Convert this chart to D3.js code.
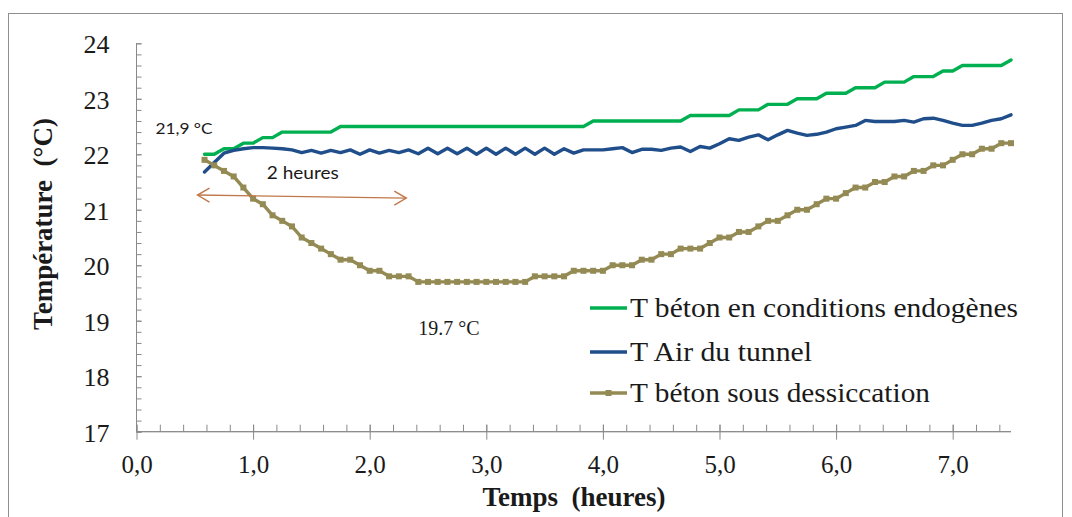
<!DOCTYPE html>
<html>
<head>
<meta charset="utf-8">
<script src="https://cdn.jsdelivr.net/npm/d3@7"></script>
<style>
  html, body { margin: 0; padding: 0; background: #fff; }
  svg { display: block; }
</style>
</head>
<body>
<svg id="chart" width="1072" height="517"></svg>
<script>
// ---- Data (time in minutes, temperatures in °C) ----
const minutes = [35,40,45,50,55,60,65,70,75,80,
  85,90,95,100,105,110,115,120,125,130,
  135,140,145,150,155,160,165,170,175,180,
  185,190,195,200,205,210,215,220,225,230,
  235,240,245,250,255,260,265,270,275,280,
  285,290,295,300,305,310,315,320,325,330,
  335,340,345,350,355,360,365,370,375,380,
  385,390,395,400,405,410,415,420,425,430,
  435,440,445,450];

const tBetonEndogene = [22.0,22.0,22.1,22.1,22.2,22.2,22.3,22.3,22.4,22.4,
  22.4,22.4,22.4,22.4,22.5,22.5,22.5,22.5,22.5,22.5,
  22.5,22.5,22.5,22.5,22.5,22.5,22.5,22.5,22.5,22.5,
  22.5,22.5,22.5,22.5,22.5,22.5,22.5,22.5,22.5,22.5,
  22.6,22.6,22.6,22.6,22.6,22.6,22.6,22.6,22.6,22.6,
  22.7,22.7,22.7,22.7,22.7,22.8,22.8,22.8,22.9,22.9,
  22.9,23.0,23.0,23.0,23.1,23.1,23.1,23.2,23.2,23.2,
  23.3,23.3,23.3,23.4,23.4,23.4,23.5,23.5,23.6,23.6,
  23.6,23.6,23.6,23.7];

const tAirTunnel = [21.68,21.85,22.02,22.07,22.10,22.12,22.12,22.11,22.10,22.08,
  22.03,22.07,22.02,22.07,22.03,22.08,22.00,22.08,22.02,22.07,
  22.03,22.08,22.01,22.11,22.01,22.11,22.01,22.11,22.00,22.11,
  22.00,22.11,22.00,22.11,22.00,22.11,22.00,22.10,22.02,22.08,
  22.08,22.08,22.10,22.12,22.03,22.09,22.09,22.07,22.11,22.13,
  22.05,22.14,22.11,22.19,22.28,22.25,22.31,22.35,22.26,22.35,
  22.43,22.38,22.34,22.36,22.40,22.46,22.49,22.52,22.61,22.59,
  22.59,22.59,22.61,22.58,22.64,22.65,22.61,22.56,22.52,22.52,
  22.56,22.61,22.64,22.71];

const tBetonDessiccation = [21.9,21.8,21.7,21.6,21.4,21.2,21.1,20.9,20.8,20.7,
  20.5,20.4,20.3,20.2,20.1,20.1,20.0,19.9,19.9,19.8,
  19.8,19.8,19.7,19.7,19.7,19.7,19.7,19.7,19.7,19.7,
  19.7,19.7,19.7,19.7,19.8,19.8,19.8,19.8,19.9,19.9,
  19.9,19.9,20.0,20.0,20.0,20.1,20.1,20.2,20.2,20.3,
  20.3,20.3,20.4,20.5,20.5,20.6,20.6,20.7,20.8,20.8,
  20.9,21.0,21.0,21.1,21.2,21.2,21.3,21.4,21.4,21.5,
  21.5,21.6,21.6,21.7,21.7,21.8,21.8,21.9,22.0,22.0,
  22.1,22.1,22.2,22.2];

const seriesNames = ["T béton en conditions endogènes", "T Air du tunnel", "T béton sous dessiccation"];
const xTickValues = [0,1,2,3,4,5,6,7];
const yTickValues = [17,18,19,20,21,22,23,24];
const xTitle = "Temps  (heures)";
const yTitle = "Température  (°C)";

// ---- Setup ----
const svg = d3.select("#chart");
const colors = ["#00b050", "#1f4e8a", "#948a54"];
const axisColor = "#898989";
const serif = "'Liberation Serif', 'Times New Roman', serif";
const sans = "Lato, 'Open Sans', sans-serif";

const x = d3.scaleLinear().domain([0, 7.5]).range([136.5, 1011]);
const y = d3.scaleLinear().domain([17, 24]).range([431.7, 43.3]);

// Outer frame
svg.append("rect").attr("x", 8.5).attr("y", 13.5).attr("width", 1054).attr("height", 600)
  .attr("fill", "none").attr("stroke", "#8f8f8f").attr("stroke-width", 1);

// ---- Axes ----
const minorX = d3.range(0, 7.5 + 1e-9, 0.2).map(v => +v.toFixed(1));
const minorY = d3.range(17, 24 + 1e-9, 0.2).map(v => +v.toFixed(1));

// Y minor (inside)
const gyMinor = svg.append("g").attr("transform", `translate(${x(0)},0)`)
  .call(d3.axisLeft(y).tickValues(minorY).tickSize(-5).tickFormat(""));
// Y major
const gy = svg.append("g").attr("transform", `translate(${x(0)},0)`)
  .call(d3.axisLeft(y).tickValues(yTickValues).tickSize(8).tickPadding(19).tickFormat(d3.format("d")));
// X minor (inside)
const gxMinor = svg.append("g").attr("transform", `translate(0,${y(17)})`)
  .call(d3.axisBottom(x).tickValues(minorX).tickSize(-7).tickFormat(""));
// X major
const gx = svg.append("g").attr("transform", `translate(0,${y(17)})`)
  .call(d3.axisBottom(x).tickValues(xTickValues).tickSize(8)
    .tickFormat(d => d.toFixed(1).replace(".", ",")));

[gyMinor, gy, gxMinor, gx].forEach(g => {
  g.select(".domain").attr("stroke", axisColor).attr("stroke-width", 1);
  g.selectAll(".tick line").attr("stroke", axisColor).attr("stroke-width", 1);
});
gxMinor.select(".domain").attr("d", `M${x(0)},0H${x(7.5)}`);
gx.select(".domain").attr("d", `M${x(0)},0H${x(7.5)}`);
gy.select(".domain").attr("d", `M0,${y(17)}V${y(24)}`);
gyMinor.select(".domain").attr("d", `M0,${y(17)}V${y(24)}`);
// major x ticks cross the axis
gx.selectAll(".tick line").attr("y1", -7);
gy.selectAll(".tick line").attr("x2", 5);

gy.selectAll(".tick text").attr("font-family", serif).attr("font-size", 26)
  .attr("fill", "#1a1a1a").attr("dy", "0.37em");
gx.selectAll(".tick text").attr("font-family", serif).attr("font-size", 25)
  .attr("fill", "#1a1a1a").attr("y", 41).attr("dy", 0);

// Axis titles
svg.append("text").attr("x", 574).attr("y", 506).attr("text-anchor", "middle")
  .attr("font-family", serif).attr("font-size", 27).attr("font-weight", "bold")
  .attr("fill", "#1a1a1a").attr("xml:space", "preserve").text(xTitle);
svg.append("text").attr("transform", "translate(52,224) rotate(-90)").attr("text-anchor", "middle")
  .attr("font-family", serif).attr("font-size", 27).attr("font-weight", "bold")
  .attr("fill", "#1a1a1a").attr("xml:space", "preserve").text(yTitle);

// ---- Lines ----
const hours = minutes.map(m => m / 60);
const allSeries = [tBetonEndogene, tAirTunnel, tBetonDessiccation];
const line = d3.line().x(d => x(d[0])).y(d => y(d[1]));

allSeries.forEach((vals, i) => {
  const pts = hours.map((h, j) => [h, vals[j]]);
  svg.append("path").datum(pts).attr("d", line)
    .attr("fill", "none").attr("stroke", colors[i]).attr("stroke-width", 3.4)
    .attr("stroke-linejoin", "round").attr("stroke-linecap", "round");
  if (i === 2) {
    svg.append("g").selectAll("rect").data(pts).join("rect")
      .attr("x", d => x(d[0]) - 3).attr("y", d => y(d[1]) - 3)
      .attr("width", 6).attr("height", 6).attr("fill", colors[i]);
  }
});

// ---- Annotations ----
svg.append("text").attr("x", x(0.163)).attr("y", y(22.37))
  .attr("font-family", sans).attr("font-size", 16).attr("fill", "#1a1a1a")
  .attr("textLength", 57).attr("lengthAdjust", "spacingAndGlyphs").text("21,9 °C");
svg.append("text").attr("x", x(1.117)).attr("y", y(21.55))
  .attr("font-family", sans).attr("font-size", 17).attr("fill", "#1a1a1a")
  .attr("textLength", 72).attr("lengthAdjust", "spacingAndGlyphs").text("2 heures");
svg.append("text").attr("x", x(2.417)).attr("y", y(18.74))
  .attr("font-family", serif).attr("font-size", 20).attr("fill", "#1a1a1a").text("19.7 °C");

// double arrow "2 heures"
const ax1 = x(0.523), ay1 = y(21.265), ax2 = x(2.314), ay2 = y(21.21);
const arrowColor = "#c0774a";
svg.append("line").attr("x1", ax1).attr("y1", ay1).attr("x2", ax2).attr("y2", ay2)
  .attr("stroke", arrowColor).attr("stroke-width", 1.4);
svg.append("path").attr("d", `M${ax1 + 12},${ay1 - 7}L${ax1},${ay1}L${ax1 + 12},${ay1 + 7}`)
  .attr("fill", "none").attr("stroke", arrowColor).attr("stroke-width", 1.4);
svg.append("path").attr("d", `M${ax2 - 12},${ay2 - 7}L${ax2},${ay2}L${ax2 - 12},${ay2 + 7}`)
  .attr("fill", "none").attr("stroke", arrowColor).attr("stroke-width", 1.4);

// ---- Legend ----
const legendY = [308, 352, 393];
const legendW = [388, 182, 300];
seriesNames.forEach((name, i) => {
  const g = svg.append("g").attr("transform", `translate(590,${legendY[i]})`);
  g.append("line").attr("x1", 0).attr("x2", 37).attr("y1", 0).attr("y2", 0)
    .attr("stroke", colors[i]).attr("stroke-width", 3.4);
  if (i === 2) g.append("rect").attr("x", 15.5).attr("y", -3).attr("width", 6).attr("height", 6).attr("fill", colors[i]);
  g.append("text").attr("x", 40).attr("y", 8.5)
    .attr("font-family", serif).attr("font-size", 28).attr("fill", "#1a1a1a")
    .attr("textLength", legendW[i]).attr("lengthAdjust", "spacingAndGlyphs").text(name);
});
</script>
</body>
</html>
